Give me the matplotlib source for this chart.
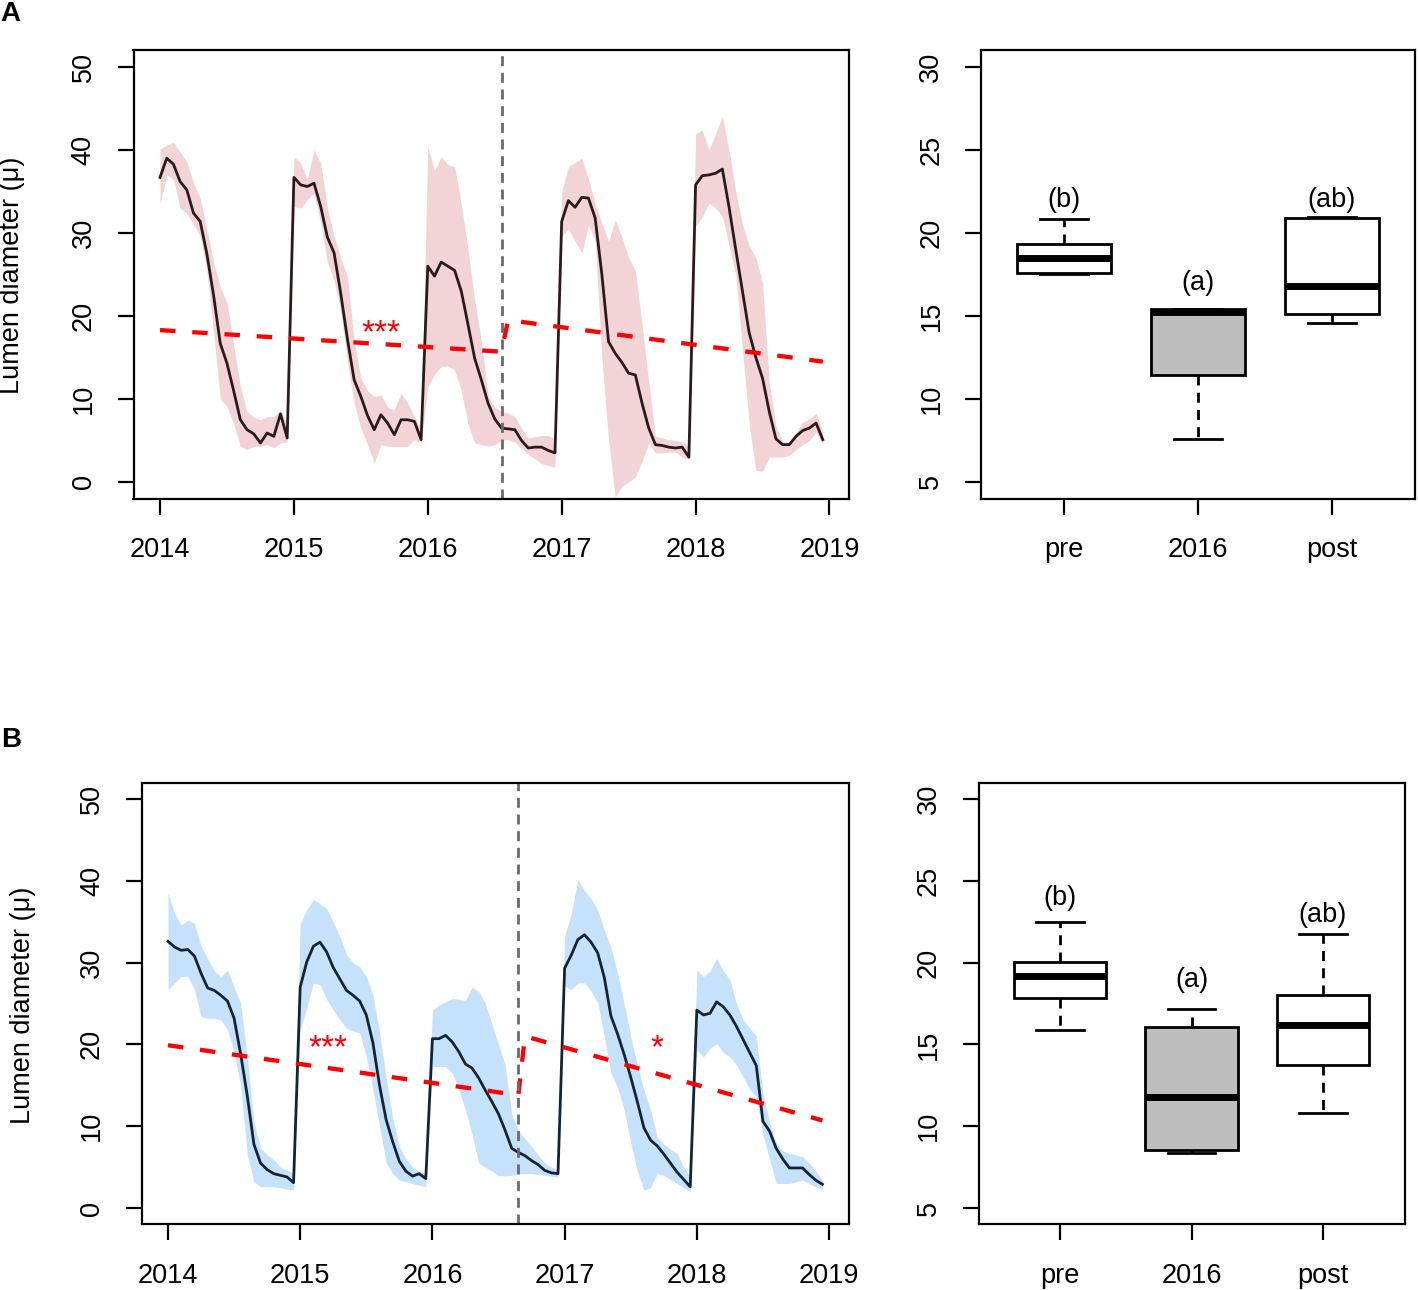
import numpy as np
import matplotlib
matplotlib.use("Agg")
import matplotlib.pyplot as plt

plt.rcParams['font.family'] = ['Liberation Sans', 'DejaVu Sans']

# time grid: 20 samples per year, 2014 - 2018
t = 2014 + np.arange(100) / 20.0
years = [2014, 2015, 2016, 2017, 2018, 2019]

# panel A series
a_mean = [36.7, 39.0, 38.3, 36.2, 35.2, 32.4, 31.4, 27.5, 22.5, 16.7, 14.3, 11.0, 7.5, 6.3, 5.8, 4.7, 5.9, 5.5, 8.2, 5.3,
          36.7, 35.8, 35.6, 36.0, 33.2, 29.5, 27.6, 22.7, 17.2, 12.3, 10.3, 8.0, 6.3, 8.1, 7.1, 5.7, 7.5, 7.5, 7.3, 5.1,
          26.0, 24.8, 26.5, 26.0, 25.5, 23.0, 19.0, 14.9, 12.3, 9.5, 7.6, 6.5, 6.4, 6.3, 5.0, 4.1, 4.2, 4.2, 3.8, 3.5,
          31.4, 33.9, 33.1, 34.3, 34.2, 31.8, 25.0, 16.9, 15.5, 14.4, 13.1, 12.9, 9.5, 6.5, 4.5, 4.4, 4.2, 4.1, 4.2, 3.0,
          35.8, 36.9, 37.0, 37.2, 37.7, 33.1, 28.0, 23.0, 18.0, 15.0, 12.5, 8.5, 5.2, 4.5, 4.5, 5.5, 6.2, 6.5, 7.1, 5.1]
a_upper = [40.1, 40.6, 40.9, 39.8, 38.6, 36.0, 34.2, 30.5, 26.5, 23.5, 21.6, 16.5, 11.5, 8.5, 7.8, 7.5, 7.9, 7.9, 8.7, 7.0,
           39.2, 38.4, 36.5, 40.0, 38.4, 33.0, 29.6, 27.0, 24.7, 17.0, 12.5, 11.0, 10.3, 10.5, 9.0, 8.7, 10.7, 9.5, 7.9, 6.5,
           40.4, 37.5, 39.2, 38.2, 38.0, 33.5, 28.0, 22.0, 17.0, 10.5, 9.0, 8.5, 8.3, 7.9, 6.5, 5.3, 5.5, 5.6, 5.6, 5.2,
           35.0, 38.0, 38.5, 39.0, 36.5, 33.5, 31.2, 29.0, 31.6, 29.5, 27.0, 25.5, 19.0, 12.0, 5.5, 5.3, 5.1, 5.0, 4.9, 4.3,
           42.0, 42.4, 40.0, 42.0, 44.0, 40.0, 35.0, 31.0, 28.5, 27.0, 24.0, 12.0, 6.7, 5.0, 4.7, 6.0, 7.2, 7.6, 8.3, 6.0]
a_lower = [33.4, 37.0, 36.5, 33.0, 32.4, 31.0, 29.6, 25.5, 18.0, 10.0, 9.1, 7.0, 4.3, 3.9, 4.3, 4.3, 4.5, 4.1, 4.7, 4.8,
           33.2, 33.0, 34.0, 34.8, 31.2, 26.5, 24.3, 20.5, 14.5, 9.5, 6.5, 4.5, 2.3, 4.5, 4.3, 4.3, 4.3, 4.3, 5.1, 4.7,
           11.5, 13.0, 13.9, 14.0, 13.5, 11.0, 7.0, 4.7, 4.5, 4.3, 4.5, 5.0, 5.1, 4.8, 4.0, 3.3, 2.8, 2.2, 2.0, 1.8,
           29.6, 30.5, 29.0, 27.6, 31.0, 29.0, 15.0, 5.0, -1.8, -0.5, 0.0, 0.6, 2.5, 4.7, 3.5, 3.5, 3.6, 3.6, 3.0, 2.7,
           30.8, 32.0, 33.6, 33.0, 32.0, 28.5, 25.0, 16.0, 7.0, 1.4, 1.3, 3.0, 3.0, 3.0, 3.2, 3.9, 4.5, 5.0, 6.0, 4.5]

# panel B series
b_mean = [32.6, 31.9, 31.5, 31.6, 30.8, 28.7, 26.9, 26.6, 26.0, 25.3, 23.2, 18.8, 13.7, 7.8, 5.5, 4.7, 4.2, 4.0, 3.8, 3.1,
          27.0, 30.1, 32.0, 32.5, 31.3, 29.4, 28.0, 26.6, 26.0, 25.3, 23.6, 20.2, 15.0, 10.8, 8.1, 5.7, 4.5, 3.9, 4.2, 3.6,
          20.7, 20.7, 21.1, 20.3, 19.1, 17.6, 17.1, 15.9, 14.4, 13.0, 11.5, 9.5, 7.3, 6.8, 6.4, 5.8, 5.3, 4.6, 4.3, 4.2,
          29.3, 30.9, 32.8, 33.4, 32.5, 31.2, 28.2, 23.5, 21.3, 18.8, 16.0, 13.0, 9.8, 8.3, 7.6, 6.6, 5.5, 4.4, 3.5, 2.6,
          24.2, 23.6, 23.8, 25.2, 24.6, 23.6, 22.2, 20.6, 19.0, 17.4, 10.6, 9.4, 7.3, 6.0, 4.9, 4.9, 4.9, 4.1, 3.4, 2.9]
b_upper = [38.5, 36.0, 34.6, 35.2, 34.8, 32.0, 30.5, 29.0, 28.3, 29.1, 27.0, 25.0, 18.5, 10.5, 7.4, 6.5, 5.9, 5.0, 4.6, 4.3,
           34.8, 36.5, 37.7, 37.2, 36.6, 35.0, 33.2, 31.0, 30.0, 29.5, 28.3, 26.0, 21.5, 16.0, 11.0, 7.5, 6.0, 5.0, 4.5, 4.3,
           24.2, 24.8, 25.2, 25.6, 25.5, 25.4, 27.0, 26.5, 25.0, 22.5, 20.0, 17.5, 11.5, 9.5, 8.5, 7.5, 6.5, 5.5, 5.0, 4.6,
           33.2, 36.0, 40.1, 38.8, 37.8, 36.4, 34.0, 31.9, 28.7, 25.0, 21.0, 17.5, 14.4, 12.0, 8.7, 7.8, 7.2, 6.7, 5.0, 3.8,
           29.1, 28.3, 29.0, 30.5, 29.0, 27.9, 25.0, 23.0, 22.0, 21.0, 14.0, 10.5, 8.0, 7.0, 6.7, 6.5, 6.3, 5.5, 4.5, 3.4]
b_lower = [26.7, 27.5, 28.3, 28.3, 26.7, 23.4, 23.2, 23.2, 23.0, 21.8, 19.0, 15.0, 6.5, 3.2, 2.6, 2.6, 2.6, 2.5, 2.3, 2.2,
           21.8, 24.5, 27.5, 27.3, 25.5, 24.2, 23.0, 22.0, 21.6, 21.4, 18.5, 14.5, 10.0, 5.5, 4.2, 3.4, 3.2, 3.0, 2.8, 2.6,
           17.3, 17.3, 17.3, 16.5, 14.5, 12.0, 9.0, 5.5, 5.0, 4.5, 4.0, 3.9, 4.0, 4.2, 4.2, 4.2, 4.1, 4.0, 3.9, 3.8,
           27.1, 26.7, 27.5, 27.5, 26.5, 25.1, 21.0, 16.5, 14.8, 12.0, 8.0, 4.5, 2.2, 2.5, 4.2, 4.0, 3.5, 3.0, 2.5, 2.0,
           19.3, 18.5, 19.5, 20.1, 19.0, 18.5, 17.5, 16.0, 14.5, 13.5, 9.0, 6.0, 3.0, 3.0, 3.0, 3.2, 3.4, 3.0, 2.6, 2.2]

# segmented trend lines (pre / post)
a_trend_t = [2014.0, 2016.55, 2016.60, 2018.95]
a_trend_y = [18.3, 15.7, 19.5, 14.5]
b_trend_t = [2014.0, 2016.65, 2016.70, 2018.95]
b_trend_y = [19.9, 13.8, 21.0, 10.7]
a_break = 2016.555
b_break = 2016.65
a_stars = [(2015.65, 19.2, '***')]
b_stars = [(2015.21, 20.8, '***'), (2017.70, 20.8, '*')]

# boxplot stats: pre, 2016, post
groups = ['pre', '2016', 'post']
a_whislo = [17.55, 7.60, 14.55]
a_q1 = [17.62, 11.44, 15.13]
a_med = [18.49, 15.25, 16.79]
a_q3 = [19.32, 15.45, 20.92]
a_whishi = [20.82, 15.45, 20.98]
a_letters = ['(b)', '(a)', '(ab)']
a_letter_y = [22.0, 17.0, 22.0]

b_whislo = [15.90, 8.36, 10.78]
b_q1 = [17.82, 8.54, 13.72]
b_med = [19.20, 11.78, 16.20]
b_q3 = [20.04, 16.04, 18.00]
b_whishi = [22.46, 17.18, 21.77]
b_letters = ['(b)', '(a)', '(ab)']
b_letter_y = [23.95, 18.96, 22.93]

box_colors = ['white', '#BEBEBE', 'white']

W, H = 1418, 1290
fig = plt.figure(figsize=(W / 100, H / 100), dpi=100)


def px_axes(l, t_, r, b):
    return fig.add_axes([l / W, 1 - b / H, (r - l) / W, (b - t_) / H])


FS = 19.5
STAR_FS = 24


def style(ax):
    for s in ax.spines.values():
        s.set_linewidth(1.6)
    ax.tick_params(axis='both', length=11.5, width=1.6, labelsize=FS)
    ax.tick_params(axis='x', pad=16)
    ax.tick_params(axis='y', pad=15)


def ts_panel(ax, mean, upper, lower, band_col, line_col, tr_t, tr_y, vline, stars):
    ax.fill_between(t, lower, upper, color=band_col, lw=0)
    ax.plot(t, mean, color=line_col, lw=2.0)
    ax.plot(tr_t, tr_y, color='#FF0000', lw=3.1, dashes=(3.6, 3.9))
    ax.axvline(vline, color='#6a6a6a', lw=2.0, dashes=(3.6, 2.4))
    for x, y, s in stars:
        ax.annotate(s, (x, y), xytext=(0, -0.58 * STAR_FS), textcoords='offset points',
                    color='#FF0000', fontsize=STAR_FS, ha='center', va='baseline')
    rng = t[-1] - t[0]
    ax.set_xlim(t[0] - 0.04 * rng, t[-1] + 0.04 * rng)
    ax.set_ylim(-2, 52)
    ax.set_xticks(years)
    ax.set_xticklabels([str(y) for y in years])
    ax.set_yticks([0, 10, 20, 30, 40, 50])
    ax.set_yticklabels(['0', '10', '20', '30', '40', '50'], rotation=90, va='center')
    style(ax)


def box_panel(ax, whislo, q1, med, q3, whishi, letters, letter_y):
    stats = []
    for i in range(3):
        stats.append(dict(whislo=whislo[i], q1=q1[i], med=med[i], q3=q3[i], whishi=whishi[i], label=groups[i]))
    bp = ax.bxp(stats, positions=[1, 2, 3], widths=0.7, patch_artist=True, showfliers=False,
                boxprops=dict(linewidth=2.0, edgecolor='black'),
                medianprops=dict(color='black', linewidth=5.0, solid_capstyle='butt'),
                whiskerprops=dict(color='black', linewidth=2.0, dashes=(3.6, 2.6)),
                capprops=dict(color='black', linewidth=2.0), capwidths=0.36)
    for patch, c in zip(bp['boxes'], box_colors):
        patch.set_facecolor(c)
    for i in range(3):
        ax.text(i + 1, letter_y[i], letters[i], fontsize=FS, ha='center', va='center')
    ax.set_xlim(0.38, 3.62)
    ax.set_ylim(4, 31)
    ax.set_xticks([1, 2, 3])
    ax.set_xticklabels(groups)
    ax.set_yticks([5, 10, 15, 20, 25, 30])
    ax.set_yticklabels(['5', '10', '15', '20', '25', '30'], rotation=90, va='center')
    style(ax)


ax1 = px_axes(133.5, 50.4, 849.3, 498.6)
ts_panel(ax1, a_mean, a_upper, a_lower, '#F2D4D6', '#2b1a1c', a_trend_t, a_trend_y, a_break, a_stars)
ax2 = px_axes(981.2, 50.4, 1415.0, 498.6)
box_panel(ax2, a_whislo, a_q1, a_med, a_q3, a_whishi, a_letters, a_letter_y)

ax3 = px_axes(141.8, 782.6, 848.6, 1224.4)
ts_panel(ax3, b_mean, b_upper, b_lower, '#C6E2FA', '#152433', b_trend_t, b_trend_y, b_break, b_stars)
ax4 = px_axes(978.5, 782.6, 1404.5, 1224.4)
box_panel(ax4, b_whislo, b_q1, b_med, b_q3, b_whishi, b_letters, b_letter_y)

fig.text(12 / W, 1 - 275 / H, 'Lumen diameter (\u03bc)', rotation=90, ha='center', va='center', fontsize=FS)
fig.text(23 / W, 1 - 1005 / H, 'Lumen diameter (\u03bc)', rotation=90, ha='center', va='center', fontsize=FS)
fig.text(10 / W, 1 - 14 / H, 'A', fontsize=20, fontweight='bold', ha='center', va='center')
fig.text(11 / W, 1 - 740 / H, 'B', fontsize=20, fontweight='bold', ha='center', va='center')

fig.savefig('out.png', dpi=100)
